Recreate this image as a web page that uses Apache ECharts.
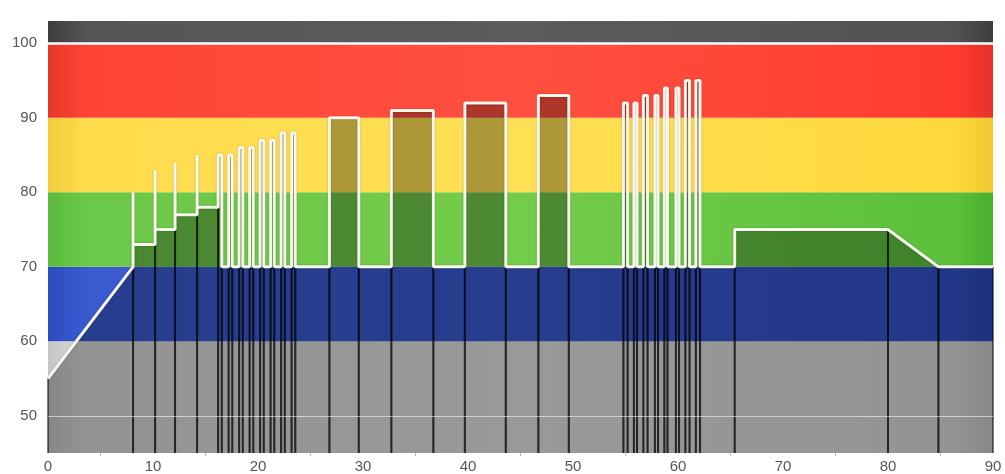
<!DOCTYPE html>
<html><head><meta charset="utf-8">
<script src="https://cdn.jsdelivr.net/npm/echarts@6/dist/echarts.min.js"></script>
<style>html,body{margin:0;padding:0;background:#fff}#c{width:1005px;height:474px}</style>
</head><body><div id="c"></div>
<script>
// Workout profile: time (min) and intensity (% of threshold)
const profileTime = [
  0, 8.1, 8.1, 8.1, 10.2, 10.2, 10.2, 12.1, 12.1, 12.1, 14.2, 14.2, 14.2,
  16.2, 16.2, 16.55, 16.55,
  17.2, 17.2, 17.55, 17.55,
  18.2, 18.2, 18.55, 18.55,
  19.2, 19.2, 19.55, 19.55,
  20.2, 20.2, 20.55, 20.55,
  21.2, 21.2, 21.55, 21.55,
  22.2, 22.2, 22.55, 22.55,
  23.2, 23.2, 23.55, 23.55,
  26.8, 26.8, 29.6, 29.6,
  32.7, 32.7, 36.7, 36.7,
  39.7, 39.7, 43.6, 43.6,
  46.7, 46.7, 49.6, 49.6,
  54.8, 54.8, 55.2, 55.2,
  55.8, 55.8, 56.1, 56.1,
  56.7, 56.7, 57.1, 57.1,
  57.8, 57.8, 58.1, 58.1,
  58.7, 58.7, 59.0, 59.0,
  59.8, 59.8, 60.1, 60.1,
  60.7, 60.7, 61.1, 61.1,
  61.7, 61.7, 62.1, 62.1,
  65.4, 65.4, 80, 84.8, 90
];
const profilePower = [
  55, 70, 80, 73, 73, 83, 75, 75, 84, 77, 77, 85, 78,
  78, 85, 85, 70,
  70, 85, 85, 70,
  70, 86, 86, 70,
  70, 86, 86, 70,
  70, 87, 87, 70,
  70, 87, 87, 70,
  70, 88, 88, 70,
  70, 88, 88, 70,
  70, 90, 90, 70,
  70, 91, 91, 70,
  70, 92, 92, 70,
  70, 93, 93, 70,
  70, 92, 92, 70,
  70, 92, 92, 70,
  70, 93, 93, 70,
  70, 93, 93, 70,
  70, 94, 94, 70,
  70, 94, 94, 70,
  70, 95, 95, 70,
  70, 95, 95, 70,
  70, 75, 75, 70, 70
];
// Intensity zones (bands)
const zoneFrom = [45, 60, 70, 80, 90, 100];
const zoneTo   = [60, 70, 80, 90, 100, 103];
const xTicks = [0, 90, 10];   // min, max, step
const yRange = [45, 103];

const zoneColors = [
  ['#c6c6c6', '#dadada', '#e2e2e2', '#dadada', '#c8c8c8'],
  ['#2d4cc0', '#3a5ad0', '#3a5ad0', '#3352c8', '#2a48b8'],
  ['#5cba3c', '#6cc848', '#74cc4c', '#5cc03c', '#48b02c'],
  ['#f2cc3c', '#ffdc4c', '#ffe054', '#ffd83c', '#f0c830'],
  ['#e6362a', '#ff4434', '#ff5040', '#ff3c2e', '#e8302a'],
  ['#3c3c3c', '#555555', '#5c5c5c', '#525252', '#3e3e3e']
];
const stops = [0, 0.04, 0.5, 0.96, 1];

const bandData = zoneFrom.map((f, i) => [xTicks[0], f, xTicks[1], zoneTo[i], i]);
const profileData = profileTime.map((t, i) => [t, profilePower[i]]);
const segData = [];
for (let i = 0; i < profileTime.length - 1; i++) {
  if (profileTime[i + 1] > profileTime[i]) {
    segData.push([profileTime[i], profilePower[i], profileTime[i + 1], profilePower[i + 1]]);
  }
}

const chart = echarts.init(document.getElementById('c'));
const labelFont = { color: '#555', fontSize: 15, fontFamily: 'Liberation Sans, Arial, sans-serif' };

chart.setOption({
  animation: false,
  grid: { left: 48, right: 12, top: 21, bottom: 21 },
  xAxis: {
    type: 'value', min: xTicks[0], max: xTicks[1], interval: xTicks[2],
    axisLine: { show: false }, axisTick: { show: false },
    minorTick: { show: true, splitNumber: 2, length: 3, lineStyle: { color: '#bbb' } },
    splitLine: { show: false }, minorSplitLine: { show: false },
    axisLabel: Object.assign({ margin: 6 }, labelFont)
  },
  yAxis: {
    type: 'value', min: yRange[0], max: yRange[1], interval: 5,
    axisLine: { show: false }, axisTick: { show: false }, splitLine: { show: false },
    axisLabel: Object.assign({
      margin: 11, showMaxLabel: false, showMinLabel: false,
      formatter: v => (v % 10 === 0 ? String(v) : '')
    }, labelFont)
  },
  series: [
    {
      type: 'custom', name: 'zones', z: 1, silent: true,
      data: bandData,
      encode: { x: [0, 2], y: [1, 3] },
      renderItem: (params, api) => {
        const a = api.coord([api.value(0), api.value(3)]);
        const b = api.coord([api.value(2), api.value(1)]);
        const idx = api.value(4);
        return {
          type: 'rect',
          shape: { x: a[0], y: a[1], width: b[0] - a[0], height: b[1] - a[1] },
          style: {
            fill: new echarts.graphic.LinearGradient(0, 0, 1, 0,
              zoneColors[idx].map((c, k) => ({ offset: stops[k], color: c })))
          }
        };
      },
      markLine: {
        silent: true, symbol: 'none', label: { show: false },
        data: [
          { yAxis: 50, lineStyle: { color: 'rgba(255,255,255,0.55)', width: 1, type: 'solid' } },
          { yAxis: 100, lineStyle: { color: '#ffffff', width: 2.5, type: 'solid' } }
        ]
      }
    },
    {
      type: 'custom', name: 'intervals', z: 3, silent: true,
      data: segData,
      encode: { x: [0, 2], y: [1, 3] },
      renderItem: (params, api) => {
        const x0 = api.value(0), y0 = api.value(1), x1 = api.value(2), y1 = api.value(3);
        const p00 = api.coord([x0, yRange[0]]), p0 = api.coord([x0, y0]);
        const p1 = api.coord([x1, y1]), p10 = api.coord([x1, yRange[0]]);
        const edge = { stroke: 'rgba(0,0,0,0.5)', lineWidth: 2 };
        return {
          type: 'group',
          children: [
            { type: 'polygon', shape: { points: [p00, p0, p1, p10] }, style: { fill: 'rgba(0,0,0,0.32)' } },
            { type: 'line', shape: { x1: p00[0], y1: p00[1], x2: p0[0], y2: p0[1] }, style: edge },
            { type: 'line', shape: { x1: p10[0], y1: p10[1], x2: p1[0], y2: p1[1] }, style: edge }
          ]
        };
      }
    },
    {
      type: 'line', name: 'profile', z: 4, silent: true,
      data: profileData, showSymbol: false, symbol: 'none',
      lineStyle: { color: '#f6f6ec', width: 3, shadowColor: 'rgba(0,0,0,0.25)', shadowBlur: 2 }
    }
  ]
});
</script></body></html>
